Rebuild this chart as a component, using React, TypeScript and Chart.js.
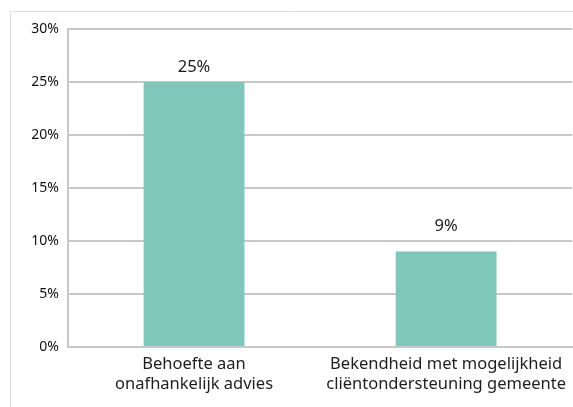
import React, { useEffect, useRef } from "react";
import { Chart, registerables } from "chart.js";

Chart.register(...registerables);

const categories: string[][] = [
  ["Behoefte aan", "onafhankelijk advies"],
  ["Bekendheid met mogelijkheid", "cliëntondersteuning gemeente"],
];
const values: number[] = [25, 9];
const yTicks: number[] = [0, 5, 10, 15, 20, 25, 30];

const FONT = "'Noto Sans', 'Open Sans', sans-serif";

const outerBorder = {
  id: "outerBorder",
  beforeDraw(chart: any) {
    const { ctx, width, height } = chart;
    ctx.save();
    ctx.strokeStyle = "#dcdcdc";
    ctx.lineWidth = 1;
    ctx.beginPath();
    ctx.moveTo(10.5, height);
    ctx.lineTo(10.5, 11.5);
    ctx.lineTo(width, 11.5);
    ctx.stroke();
    ctx.restore();
  },
};

const valueLabels = {
  id: "valueLabels",
  afterDatasetsDraw(chart: any) {
    const { ctx } = chart;
    const yScale = chart.scales.y;
    const meta = chart.getDatasetMeta(0);
    ctx.save();
    ctx.font = `16.5px ${FONT}`;
    ctx.fillStyle = "#1a1a1a";
    ctx.textAlign = "center";
    ctx.textBaseline = "alphabetic";
    meta.data.forEach((bar: any, i: number) => {
      const top = bar.y;
      let base = top - 10;
      for (const t of yTicks) {
        const gy = yScale.getPixelForValue(t);
        if (gy < top - 2 && top - gy < 16) {
          base = gy - 10;
        }
      }
      ctx.fillText(values[i] + "%", bar.x, base);
    });
    ctx.restore();
  },
};

export default function App() {
  const ref = useRef<HTMLCanvasElement>(null);
  useEffect(() => {
    if (!ref.current) return;
    const chart = new Chart(ref.current, {
      type: "bar",
      data: {
        labels: categories,
        datasets: [
          {
            data: values,
            backgroundColor: "#80c7bb",
            borderWidth: 0,
            barPercentage: 0.4,
            categoryPercentage: 1.0,
          },
        ],
      },
      options: {
        responsive: false,
        animation: false,
        layout: { padding: { top: 29, left: 0, right: 0, bottom: 0 } },
        plugins: {
          legend: { display: false },
          tooltip: { enabled: false },
        },
        scales: {
          x: {
            grid: { display: false, drawTicks: false },
            border: { display: true, color: "#c8c8c8", width: 2 },
            ticks: {
              color: "#1e1e1e",
              padding: 7,
              maxRotation: 0,
              autoSkip: false,
              font: { family: FONT, size: 16.5, lineHeight: 1.23 },
            },
            afterFit(scale: any) {
              scale.height = 60;
            },
          },
          y: {
            min: 0,
            max: 30,
            grid: { color: "#c8c8c8", lineWidth: 2, drawTicks: false },
            border: { display: true, color: "#c8c8c8", width: 2 },
            ticks: {
              stepSize: 5,
              padding: 9,
              color: "#111111",
              font: { family: FONT, size: 14 },
              callback: (v: any) => v + "%",
            },
            afterFit(scale: any) {
              scale.width = 68;
            },
          },
        },
      },
      plugins: [outerBorder, valueLabels],
    });
    return () => chart.destroy();
  }, []);
  return (
    <div style={{ position: "fixed", left: 0, top: 0, width: 573, height: 407, background: "#fff" }}>
      <canvas ref={ref} width={573} height={407} style={{ display: "block" }} />
    </div>
  );
}
